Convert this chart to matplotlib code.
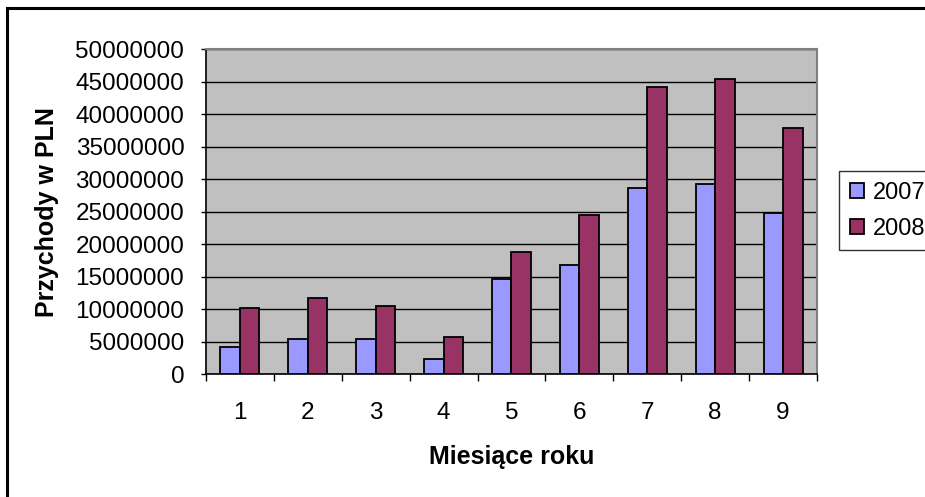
import matplotlib.pyplot as plt
import matplotlib.patches as mpatches
import numpy as np

plt.rcParams['font.family'] = ['Liberation Sans', 'DejaVu Sans']

# data
months = ["1", "2", "3", "4", "5", "6", "7", "8", "9"]
rev_2007 = [4250000, 5500000, 5500000, 2450000, 14700000, 16800000, 28700000, 29300000, 24800000]
rev_2008 = [10200000, 11700000, 10500000, 5800000, 18900000, 24500000, 44200000, 45400000, 37900000]
series_names = ["2007", "2008"]

fig = plt.figure(figsize=(9.25, 4.97), dpi=100)
ax = fig.add_axes([0.2227, 0.2465, 0.6605, 0.6543])

x = np.arange(len(months))
w = 0.287
ax.bar(x - w / 2, rev_2007, width=w, color="#9999FF", edgecolor="black", linewidth=1.3,
       label=series_names[0], zorder=3)
ax.bar(x + w / 2, rev_2008, width=w, color="#993366", edgecolor="black", linewidth=1.3,
       label=series_names[1], zorder=3)

ax.set_facecolor("#C0C0C0")
ax.set_xlim(-0.5, len(months) - 0.5)
ax.set_ylim(0, 50000000)
ax.set_yticks(np.arange(0, 50000001, 5000000))
ax.set_yticklabels([str(v) for v in range(0, 50000001, 5000000)], fontsize=17.5)
ax.yaxis.grid(True, color="black", linewidth=1)
ax.set_axisbelow(True)

ax.set_xticks(x)
ax.set_xticklabels(months, fontsize=17.5)
ax.set_xticks(np.arange(-0.5, len(months)), minor=True)
ax.tick_params(axis="x", which="major", length=0, pad=20)
ax.tick_params(axis="x", which="minor", length=5, width=1, color="black")
ax.tick_params(axis="y", length=3.6, width=1, pad=12)

for side in ["top", "right"]:
    ax.spines[side].set_color("#808080")
    ax.spines[side].set_linewidth(1.5)
for side in ["left", "bottom"]:
    ax.spines[side].set_color("black")
    ax.spines[side].set_linewidth(1.2)

ax.set_ylabel("Przychody w PLN", fontsize=18, fontweight="bold", labelpad=12)
ax.set_xlabel("Miesiące roku", fontsize=18, fontweight="bold", labelpad=15)

leg = fig.legend(loc="upper left", bbox_to_anchor=(839 / 925, 1 - 171 / 497),
                 fontsize=17, frameon=True, fancybox=False, edgecolor="black",
                 handlelength=0.6, handleheight=0.6, handletextpad=0.4,
                 borderpad=0.45, labelspacing=0.6, borderaxespad=0)
leg.get_frame().set_linewidth(1)

# outer chart border (right/bottom cut off in the reference)
fig.patches.append(mpatches.Rectangle((7 / 925, -0.1), 1.2, 1 - 8 / 497 + 0.1,
                                      transform=fig.transFigure, fill=False,
                                      edgecolor="black", linewidth=2.2))

fig.savefig("out.png", dpi=100)
